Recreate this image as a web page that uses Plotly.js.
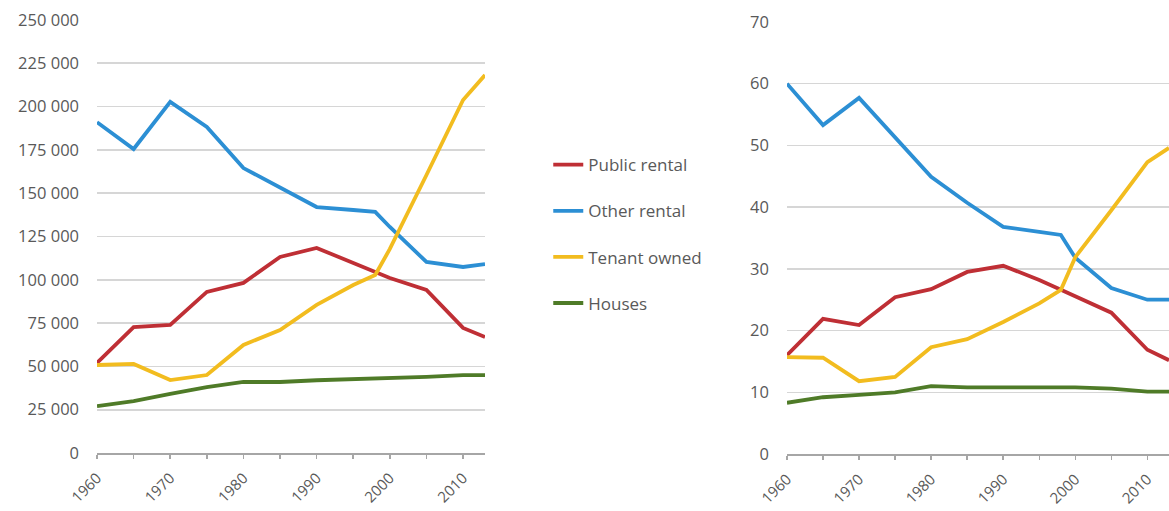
<!DOCTYPE html>
<html>
<head>
<meta charset="utf-8">
<script src="https://cdn.plot.ly/plotly-3.0.1.min.js"></script>
<style>
  html, body { margin: 0; padding: 0; background: #ffffff; }
  #chart { width: 1169px; height: 511px; }
</style>
</head>
<body>
<div id="chart"></div>
<script>
// Housing stock by tenure: number of dwellings (left) and share in percent (right)
const years = [1960, 1965, 1970, 1975, 1980, 1985, 1990, 1995, 1998, 2000, 2005, 2010, 2013];

const publicRental = [52000, 72700, 73900, 93000, 98200, 113200, 118400, 109700, 104000, 101000, 94100, 72200, 67000];
const otherRental  = [191000, 175500, 202700, 188200, 164500, 153000, 142000, 140300, 139200, 130500, 110300, 107400, 109100];
const tenantOwned  = [50800, 51400, 42100, 45000, 62400, 71000, 85500, 97000, 102800, 117800, 160500, 203800, 218200];
const houses       = [27100, 30000, 34100, 38100, 41000, 41000, 42000, 42500, 43000, 43500, 44000, 45000, 45000];

const publicRentalPct = [16.0, 21.9, 20.9, 25.4, 26.7, 29.5, 30.5, 28.2, 26.6, 25.5, 22.9, 16.9, 15.2];
const otherRentalPct  = [60.0, 53.3, 57.7, 51.4, 44.9, 40.7, 36.8, 36.0, 35.5, 31.8, 26.9, 25.0, 25.0];
const tenantOwnedPct  = [15.7, 15.6, 11.8, 12.5, 17.3, 18.6, 21.4, 24.4, 26.6, 31.9, 39.5, 47.3, 49.6];
const housesPct       = [8.3, 9.2, 9.6, 10.0, 11.0, 10.8, 10.8, 10.8, 10.8, 10.8, 10.6, 10.1, 10.1];

const seriesNames = ['Public rental', 'Other rental', 'Tenant owned', 'Houses'];
const seriesColors = ['#bf2f35', '#2c8fd4', '#f2bc1f', '#4f7b28'];

const xTickVals = [1960, 1965, 1970, 1975, 1980, 1985, 1990, 1995, 2000, 2005, 2010];
const xTickText = ['1960', '', '1970', '', '1980', '', '1990', '', '2000', '', '2010'];

const countSeries = [publicRental, otherRental, tenantOwned, houses];
const pctSeries = [publicRentalPct, otherRentalPct, tenantOwnedPct, housesPct];

const FONT = 'Open Sans, Noto Sans, sans-serif';
const TEXT = '#595959';
const GRID = '#d6d6d6';
const AXIS = '#a6a6a6';

const traces = [];
countSeries.forEach((vals, i) => {
  traces.push({
    x: years, y: vals, type: 'scatter', mode: 'lines',
    name: seriesNames[i], legendgroup: 'g' + i,
    line: { color: seriesColors[i], width: 3.8 },
    xaxis: 'x', yaxis: 'y', hoverinfo: 'x+y'
  });
});
pctSeries.forEach((vals, i) => {
  traces.push({
    x: years, y: vals, type: 'scatter', mode: 'lines',
    name: seriesNames[i], legendgroup: 'g' + i, showlegend: false,
    line: { color: seriesColors[i], width: 3.8 },
    xaxis: 'x2', yaxis: 'y2', hoverinfo: 'x+y'
  });
});

const xCommon = {
  range: [1960, 2013],
  tickmode: 'array', tickvals: xTickVals, ticktext: xTickText,
  tickangle: -45,
  ticks: 'outside', ticklen: 4, tickwidth: 1.5, tickcolor: AXIS,
  ticklabelstandoff: 5,
  showline: true, linecolor: AXIS, linewidth: 1.5,
  showgrid: false, zeroline: false,
  tickfont: { family: FONT, size: 15, color: TEXT },
  fixedrange: true
};
const yCommon = {
  showgrid: true, gridcolor: GRID, gridwidth: 1.6,
  zeroline: false, showline: false, ticks: '',
  ticklabelstandoff: 17,
  tickfont: { family: FONT, size: 16.5, color: TEXT },
  fixedrange: true
};

const layout = {
  width: 1169, height: 511, autosize: false,
  margin: { l: 0, r: 0, t: 0, b: 0, pad: 0 },
  paper_bgcolor: '#ffffff', plot_bgcolor: '#ffffff',
  separators: '. ',
  showlegend: true,
  legend: {
    x: 0.469, xanchor: 'left', y: 0.712, yanchor: 'top',
    font: { family: FONT, size: 17, color: TEXT },
    tracegroupgap: 21, bgcolor: 'rgba(0,0,0,0)'
  },
  xaxis: Object.assign({}, xCommon, { domain: [0.0830, 0.4149], anchor: 'y' }),
  yaxis: Object.assign({}, yCommon, {
    domain: [0.1135, 0.9609], anchor: 'x',
    range: [0, 250000], tickmode: 'linear', tick0: 0, dtick: 25000, tickformat: ',d'
  }),
  xaxis2: Object.assign({}, xCommon, { domain: [0.6732, 1.0], anchor: 'y2' }),
  yaxis2: Object.assign({}, yCommon, {
    domain: [0.1115, 0.9570], anchor: 'x2',
    range: [0, 70], tickmode: 'linear', tick0: 0, dtick: 10
  })
};

Plotly.newPlot('chart', traces, layout, { displayModeBar: false, staticPlot: true });
</script>
</body>
</html>
